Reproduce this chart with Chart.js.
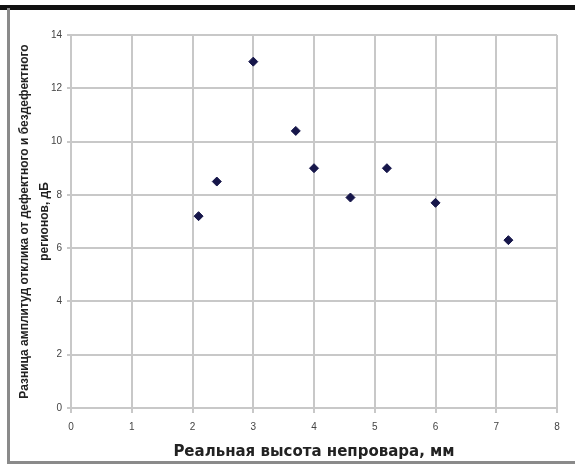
<!DOCTYPE html>
<html>
<head>
<meta charset="utf-8">
<script src="https://cdn.jsdelivr.net/npm/chart.js@4"></script>
<style>
  body { margin: 0; background: #fff; }
</style>
</head>
<body>
<canvas id="scatter" width="575" height="467"></canvas>
<script>
// measured points: real lack-of-fusion height (mm) vs amplitude difference (dB)
const heights = [2.1, 2.4, 3.0, 3.7, 4.0, 4.6, 5.2, 6.0, 7.2];
const ampDiff = [7.2, 8.5, 13.0, 10.4, 9.0, 7.9, 9.0, 7.7, 6.3];
const xTicks = [0, 1, 2, 3, 4, 5, 6, 7, 8];
const yTicks = [0, 2, 4, 6, 8, 10, 12, 14];

const gridGray = '#c8c8c8';

// outer frame of the scanned figure
const framePlugin = {
    id: 'frame',
    beforeDraw(chart) {
        const c = chart.ctx;
        c.save();
        c.fillStyle = '#fff';
        c.fillRect(0, 0, chart.width, chart.height);
        c.fillStyle = '#111';
        c.fillRect(0, 5, chart.width, 5);
        c.fillStyle = '#8a8a8a';
        c.fillRect(7, 8, 3, 456);
        c.fillRect(7, 461, chart.width - 7, 3);
        c.restore();
    }
};

new Chart(document.getElementById('scatter').getContext('2d'), {
    type: 'scatter',
    data: {
        datasets: [{
            data: heights.map((h, i) => ({ x: h, y: ampDiff[i] })),
            backgroundColor: '#16164a',
            borderColor: '#16164a',
            pointStyle: 'rectRot',
            pointRadius: 4.5,
            pointHoverRadius: 4.5
        }]
    },
    options: {
        responsive: false,
        animation: false,
        layout: { padding: { left: 5, top: 35, right: 18, bottom: 6 } },
        plugins: {
            legend: { display: false },
            tooltip: { enabled: false }
        },
        scales: {
            x: {
                type: 'linear',
                min: 0,
                max: 8,
                afterBuildTicks: s => { s.ticks = xTicks.map(v => ({ value: v })); },
                afterFit: s => { s.height = 53; },
                grid: { color: gridGray, lineWidth: 2, tickLength: 5 },
                border: { color: gridGray, width: 2 },
                ticks: {
                    padding: 8,
                    color: '#444',
                    font: { family: 'Liberation Sans', size: 10 },
                    maxRotation: 0
                },
                title: {
                    display: true,
                    text: 'Реальная высота непровара, мм',
                    color: '#222',
                    font: { family: 'DejaVu Sans', size: 15, weight: 'bold' },
                    padding: { top: 0, bottom: 0 }
                }
            },
            y: {
                min: 0,
                max: 14,
                afterBuildTicks: s => { s.ticks = yTicks.map(v => ({ value: v })); },
                afterFit: s => { s.width = 66; },
                grid: { color: gridGray, lineWidth: 2, tickLength: 4 },
                border: { color: gridGray, width: 2 },
                ticks: {
                    padding: 5,
                    color: '#444',
                    font: { family: 'Liberation Sans', size: 10 }
                },
                title: {
                    display: true,
                    text: ['Разница амплитуд отклика от дефектного и бездефектного', 'регионов, дБ'],
                    color: '#222',
                    font: { family: 'Liberation Sans', size: 12, weight: 'bold', lineHeight: '20px' },
                    padding: { top: 10, bottom: 0 }
                }
            }
        }
    },
    plugins: [framePlugin]
});
</script>
</body>
</html>
